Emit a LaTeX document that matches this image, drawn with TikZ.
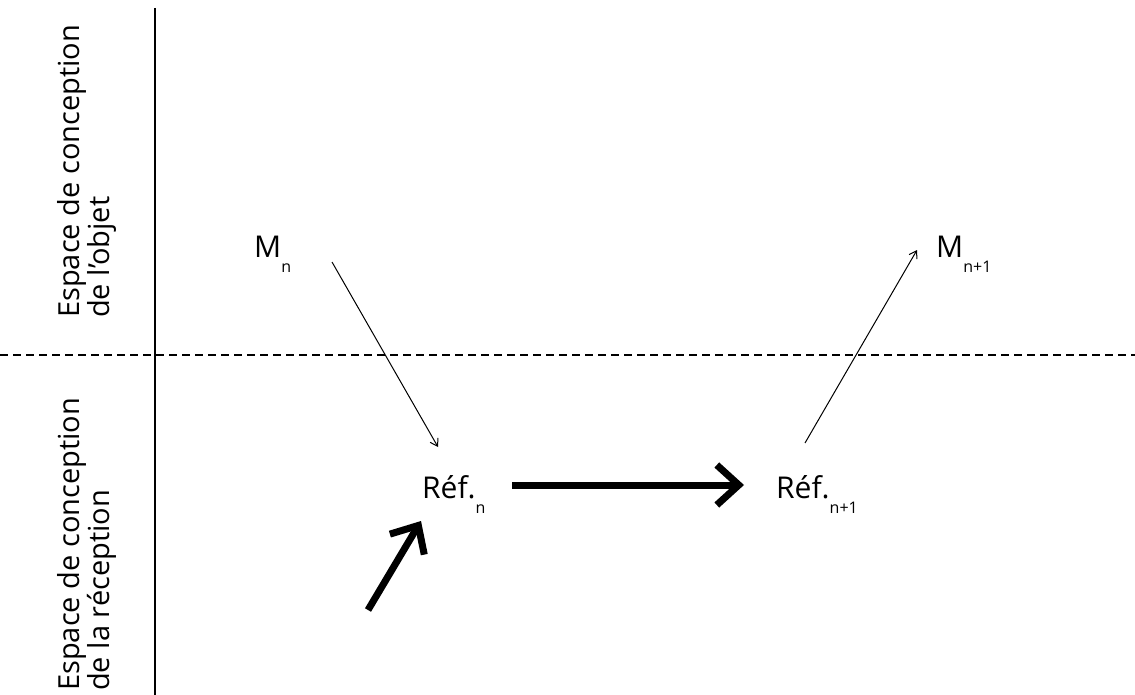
\documentclass[tikz,border=0pt]{standalone}
\usepackage{fontspec}
\setmainfont{Open Sans}
\usetikzlibrary{arrows.meta}
\tikzset{
  lbl/.style={inner sep=0pt, font=\fontsize{30}{30}\selectfont},
  side/.style={inner sep=0pt, rotate=90, anchor=north west, align=left, font=\fontsize{29}{26}\selectfont},
  thinarrow/.style={line width=1pt, -{Straight Barb[length=7pt,width=9pt,line width=1pt]}},
  thickarrow/.style={line width=7pt, -{Straight Barb[length=22pt,width=40pt,line width=7pt]}},
}
\newcommand{\sbs}[1]{\raisebox{-0.5em}{\fontsize{16}{16}\selectfont #1}}
\begin{document}
\begin{tikzpicture}[x=1pt,y=-1pt]
\useasboundingbox (0,0) rectangle (1135,695);
% axes
\draw[line width=1.6pt] (155,8) coordinate (vtop) -- (155,695) coordinate (vbot);
\draw[line width=1.2pt, dash pattern=on 8pt off 5pt] (0,355) coordinate (hl) -- (1135,355) coordinate (hr);
% side labels
\node[side] (top) at (57,318) {Espace de conception\\de l'objet};
\node[side] (bot) at (57,691) {Espace de conception\\de la réception};
% text nodes
\node[lbl, anchor=base west] (Mn) at (254,258) {M\sbs{n}};
\node[lbl, anchor=base west] (Mn1) at (936,258) {M\sbs{n+1}};
\node[lbl, anchor=base west] (Refn) at (422,498) {Réf.\sbs{n}};
\node[lbl, anchor=base west] (Refn1) at (776,498) {Réf.\sbs{n+1}};
% connector end points
\coordinate (a1) at (332,262);
\coordinate (a2) at (438,447);
\coordinate (b1) at (805,443);
\coordinate (b2) at (917,250);
\coordinate (c1) at (512,485);
\coordinate (c2) at (744,485);
\coordinate (d1) at (368,610);
\coordinate (d2) at (421,521);
\draw[thinarrow] (a1) -- (a2);
\draw[thinarrow] (b1) -- (b2);
\draw[thickarrow] (c1) -- (c2);
\draw[thickarrow] (d1) -- (d2);
\end{tikzpicture}
\end{document}
